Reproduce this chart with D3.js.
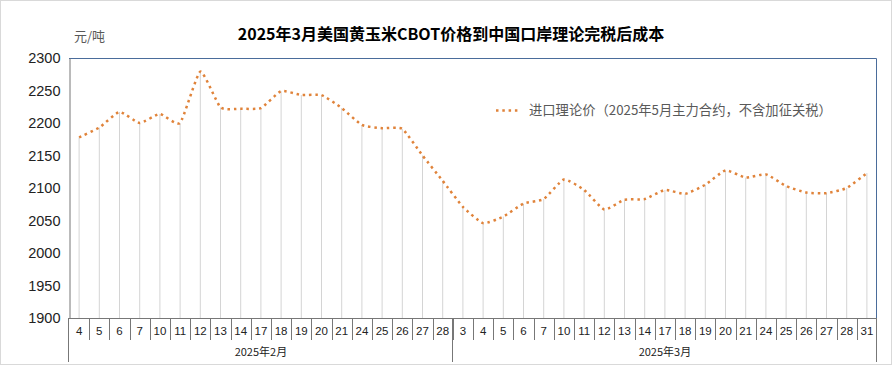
<!DOCTYPE html>
<html><head><meta charset="utf-8">
<script src="https://cdn.jsdelivr.net/npm/d3@7"></script>
<style>body{margin:0;background:#fff}svg{display:block;font-family:"Noto Sans CJK SC","Noto Sans",sans-serif}</style>
</head><body>
<script>
const febDays = ["4","5","6","7","10","11","12","13","14","17","18","19","20","21","24","25","26","27","28"];
const marDays = ["3","4","5","6","7","10","11","12","13","14","17","18","19","20","21","24","25","26","27","28","31"];
const months = ["2025年2月","2025年3月"];
const febValues = [2178,2193,2217,2200,2214,2200,2279,2224,2222,2223,2249,2243,2243,2223,2197,2192,2191,2150,2111];
const marValues = [2071,2046,2056,2076,2083,2113,2097,2067,2082,2083,2097,2091,2105,2127,2116,2121,2103,2093,2092,2100,2123];
const yTicks = [1900,1950,2000,2050,2100,2150,2200,2250,2300];
const title = "2025年3月美国黄玉米CBOT价格到中国口岸理论完税后成本";
const unit = "元/吨";
const seriesName = "进口理论价（2025年5月主力合约，不含加征关税）";

const data = [];
febDays.forEach((d,i)=>data.push({key:"2-"+d,label:d,month:0,v:febValues[i]}));
marDays.forEach((d,i)=>data.push({key:"3-"+d,label:d,month:1,v:marValues[i]}));

const W=893,H=373;
const L=69,R=877,T=58,B=318;
const svg=d3.select("body").append("svg").attr("width",W).attr("height",H);
svg.append("rect").attr("x",0.5).attr("y",0.5).attr("width",891).attr("height",364).attr("fill","#fff").attr("stroke","#d9d9d9");

const x=d3.scaleBand().domain(data.map(d=>d.key)).range([L,R]).padding(0);
const y=d3.scaleLinear().domain([1900,2300]).range([B,T]);
const cx=k=>x(k)+x.bandwidth()/2;
const col="#E0833A";

// drop lines
svg.append("g").selectAll("line").data(data).join("line")
 .attr("x1",d=>cx(d.key)).attr("x2",d=>cx(d.key))
 .attr("y1",d=>y(d.v)).attr("y2",B)
 .attr("stroke","#d4d4d4").attr("stroke-width",1);

// plot frame top/right
svg.append("path").attr("d",`M${L},${T+0.5}H${R-0.5}V${B}`).attr("fill","none").attr("stroke","#4a6c9b").attr("stroke-width",1);

// y axis
const ya=svg.append("g").attr("transform",`translate(${L+0.5},0)`).call(d3.axisLeft(y).tickValues(yTicks).tickSize(0).tickPadding(9).tickFormat(d3.format("d")));
ya.select(".domain").attr("stroke","#777");
ya.selectAll("text").attr("font-size",14.5).attr("fill","#222").attr("font-family","'Liberation Sans','Noto Sans',sans-serif");

// x axis
svg.append("line").attr("x1",L).attr("x2",R).attr("y1",B+0.5).attr("y2",B+0.5).attr("stroke","#777");
const xa=svg.append("g").attr("transform",`translate(0,${B})`).call(d3.axisBottom(x).tickSize(0).tickFormat((k,i)=>data[i].label));
xa.select(".domain").remove();
xa.selectAll("text").attr("y",13).attr("font-size",11.5).attr("fill","#222").attr("dy","0.35em").attr("font-family","'Liberation Sans','Noto Sans',sans-serif");
// separators between categories
const seps=data.slice(1).map(d=>x(d.key));
svg.append("g").selectAll("line").data(seps).join("line")
 .attr("x1",d=>Math.round(d)+0.5).attr("x2",d=>Math.round(d)+0.5).attr("y1",B).attr("y2",B+22).attr("stroke","#777");
// month separators
const mb=[L, x("3-3"), R];
svg.append("g").selectAll("line").data(mb).join("line")
 .attr("x1",d=>Math.round(d)-0.5).attr("x2",d=>Math.round(d)-0.5).attr("y1",B).attr("y2",B+44).attr("stroke","#777");
svg.append("g").selectAll("text").data(months).join("text")
 .attr("x",(d,i)=>(mb[i]+mb[i+1])/2).attr("y",356).attr("text-anchor","middle")
 .attr("font-size",11).attr("fill","#222").text(d=>d);

// line
const line=d3.line().x(d=>cx(d.key)).y(d=>y(d.v)).curve(d3.curveCardinal.tension(0.5));
svg.append("path").datum(data).attr("d",line).attr("fill","none").attr("stroke",col)
 .attr("stroke-width",2.5).attr("stroke-dasharray","2.5,3.8");

// title
svg.append("text").attr("x",451).attr("y",40).attr("text-anchor","middle").attr("font-size",16).attr("font-weight","bold").attr("fill","#000").text(title);
svg.append("text").attr("x",74).attr("y",41).attr("font-size",13).attr("fill","#595959").text(unit);

// legend
svg.append("line").attr("x1",496).attr("x2",521).attr("y1",110.5).attr("y2",110.5).attr("stroke",col).attr("stroke-width",2.5).attr("stroke-dasharray","2.5,3.8");
svg.append("text").attr("x",529).attr("y",115).attr("font-size",13.3).attr("fill","#595959").text(seriesName);
</script>
</body></html>
